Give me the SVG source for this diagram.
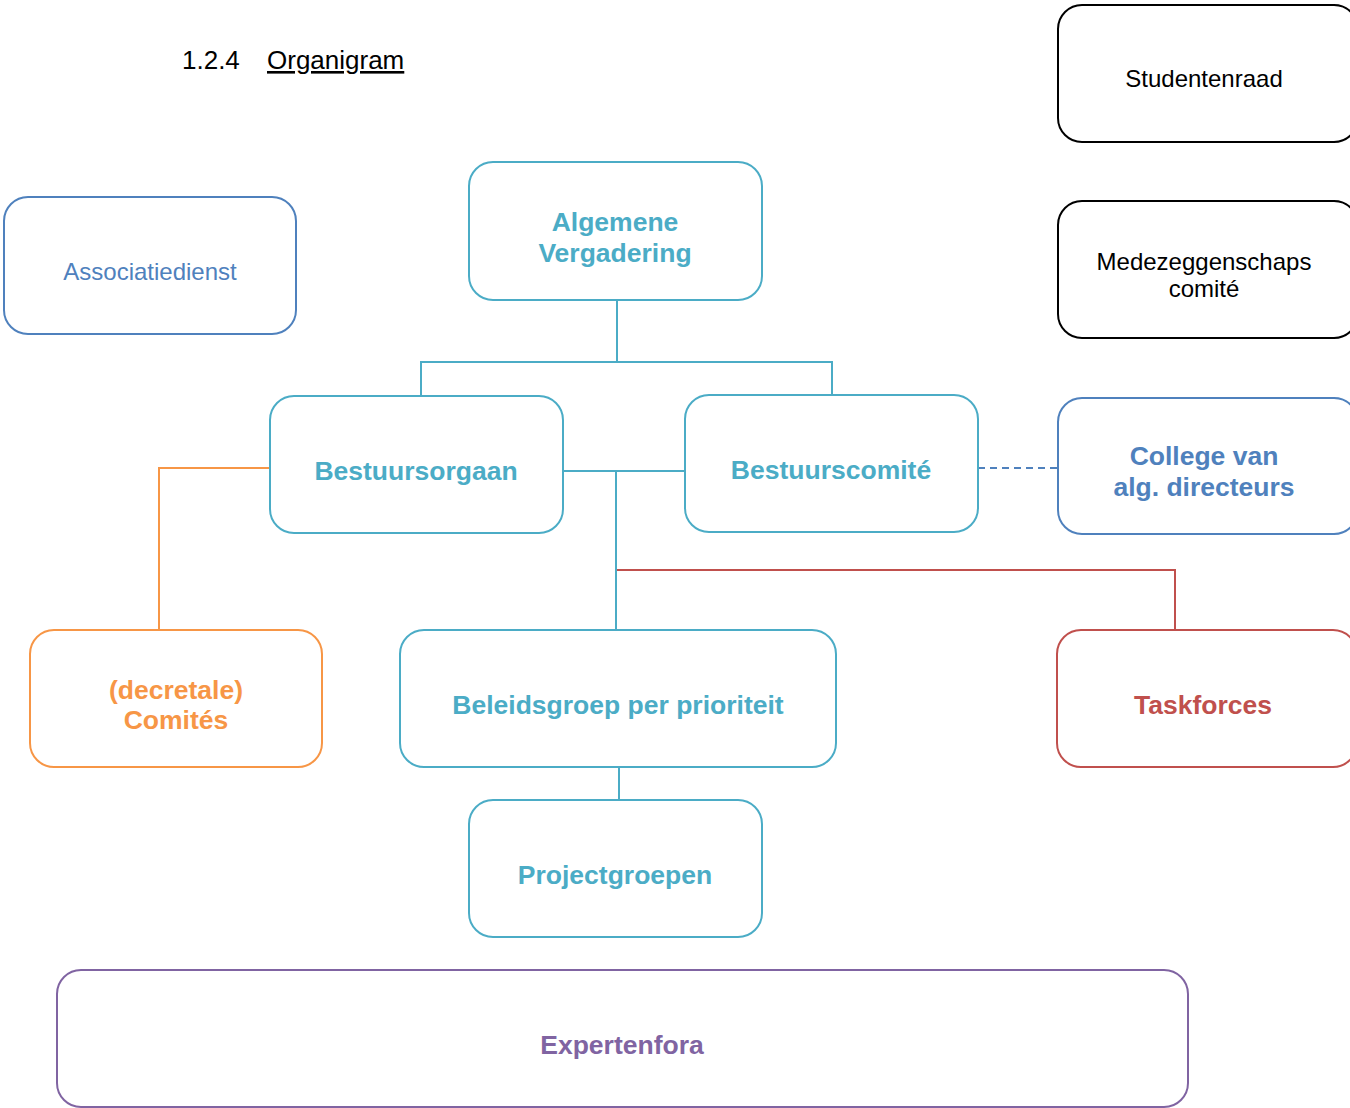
<svg xmlns="http://www.w3.org/2000/svg" width="1350" height="1108" viewBox="0 0 1350 1108">
<style>
.box{fill:#fff;stroke-width:2}
.teal{stroke:#4BACC6}
.t-teal{fill:#4BACC6}
.blue{stroke:#4F81BD}
.t-blue{fill:#4F81BD}
.black{stroke:#000}
.orange{stroke:#F79646}
.t-orange{fill:#F79646}
.red{stroke:#C0504D}
.t-red{fill:#C0504D}
.purple{stroke:#8064A2}
.t-purple{fill:#8064A2}
text{font-family:"Liberation Sans",Arial,sans-serif;text-anchor:middle}
.b{font-weight:bold;font-size:26.5px}
.n{font-size:24px}
.conn{fill:none;stroke-width:2}
</style>
<text x="182" y="69" style="text-anchor:start;font-size:26px">1.2.4</text>
<text x="267" y="69" style="text-anchor:start;font-size:26px;text-decoration:underline">Organigram</text>
<g id="connectors">
<path class="conn teal" d="M617,300V362M421,396V362H832V395M563,471H685M616,471V630M619,767V800"/>
<path class="conn orange" d="M270,468H159V630"/>
<path class="conn red" d="M617,570H1175V630"/>
<path class="conn blue" d="M978,468H1058" stroke-dasharray="7,5"/>
</g>
<g id="studentenraad"><rect class="box black" x="1058" y="5" width="300" height="137" rx="24"/><text class="n" x="1204" y="87">Studentenraad</text></g>
<g id="medezeggenschap"><rect class="box black" x="1058" y="201" width="300" height="137" rx="24"/><text class="n" x="1204" y="270">Medezeggenschaps</text><text class="n" x="1204" y="297">comité</text></g>
<g id="college"><rect class="box blue" x="1058" y="398" width="300" height="136" rx="24"/><text class="b t-blue" x="1204" y="465">College van</text><text class="b t-blue" x="1204" y="496">alg. directeurs</text></g>
<g id="associatiedienst"><rect class="box blue" x="4" y="197" width="292" height="137" rx="24"/><text class="n t-blue" x="150" y="280">Associatiedienst</text></g>
<g id="algemene"><rect class="box teal" x="469" y="162" width="293" height="138" rx="24"/><text class="b t-teal" x="615" y="231">Algemene</text><text class="b t-teal" x="615" y="262">Vergadering</text></g>
<g id="bestuursorgaan"><rect class="box teal" x="270" y="396" width="293" height="137" rx="24"/><text class="b t-teal" x="416" y="480">Bestuursorgaan</text></g>
<g id="bestuurscomite"><rect class="box teal" x="685" y="395" width="293" height="137" rx="24"/><text class="b t-teal" x="831" y="479">Bestuurscomité</text></g>
<g id="comites"><rect class="box orange" x="30" y="630" width="292" height="137" rx="24"/><text class="b t-orange" x="176" y="699">(decretale)</text><text class="b t-orange" x="176" y="729">Comités</text></g>
<g id="beleidsgroep"><rect class="box teal" x="400" y="630" width="436" height="137" rx="24"/><text class="b t-teal" x="618" y="714">Beleidsgroep per prioriteit</text></g>
<g id="taskforces"><rect class="box red" x="1057" y="630" width="300" height="137" rx="24"/><text class="b t-red" x="1203" y="714">Taskforces</text></g>
<g id="projectgroepen"><rect class="box teal" x="469" y="800" width="293" height="137" rx="24"/><text class="b t-teal" x="615" y="884">Projectgroepen</text></g>
<g id="expertenfora"><rect class="box purple" x="57" y="970" width="1131" height="137" rx="24"/><text class="b t-purple" x="622" y="1054">Expertenfora</text></g>
</svg>
